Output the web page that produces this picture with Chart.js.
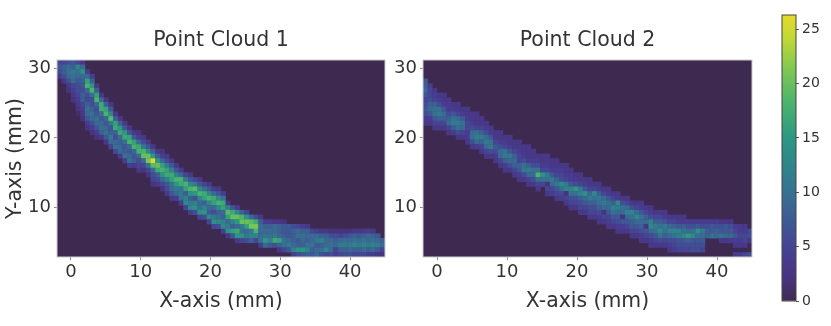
<!DOCTYPE html>
<html>
<head>
<meta charset="utf-8">
<script src="https://cdn.jsdelivr.net/npm/chart.js@4"></script>
<style>
  html, body { margin: 0; background: #fff; overflow: hidden; }
  canvas { position: absolute; top: 0; filter: blur(0.35px); }
</style>
</head>
<body>
<div style="position:absolute;left:0;top:0;width:442px;height:326px"><canvas id="cloud1"></canvas></div>
<div style="position:absolute;left:392px;top:0;width:391px;height:326px"><canvas id="cloud2"></canvas></div>
<div style="position:absolute;left:770px;top:0;width:61px;height:326px"><canvas id="colorbar"></canvas></div>
<script>
// axis ranges and ticks
const xRange = [-2, 45];
const yRange = [2.9, 31.2];
const xTicks = [0, 10, 20, 30, 40];
const yTicks = [10, 20, 30];
const barTicks = [0, 5, 10, 15, 20, 25];
const barRange = [0, 26.3];

// histogram grid
const nCols = 70;
const nRows = 42;

// viridis, a bit washed out like the picture: [value, r, g, b]
const colorStops = [
  [0, 62, 42, 80], [2, 72, 52, 125], [4, 72, 60, 145], [6, 66, 78, 148], [9, 58, 105, 148],
  [12, 48, 130, 140], [15, 44, 152, 130], [18, 72, 178, 110], [21, 120, 198, 85],
  [24, 190, 215, 55], [26.3, 228, 220, 42]
];

// first occupied row (from the top) of each column
const cloud1Start = [0,0,0,0,0,0,2,3,5,7,8,9,11,12,13,14,15,15,16,17,18,19,19,20,21,22,23,24,24,25,25,26,26,27,27,28,30,31,31,32,32,33,33,33,34,34,34,34,34,35,35,35,35,35,36,36,36,36,36,36,36,36,36,36,36,36,36,36,37,38];
// bin counts of each column, going down from the start row
const cloud1Cells = [
  [5,7,6,3],[5,8,8,6,3],[6,9,10,9,6,3,2],[7,8,11,10,9,5,4,3,2],
  [5,12,10,9,7,6,6,5,4,3,2,1],[3,9,14,9,8,7,6,8,8,5,4,3,2],[4,9,16,18,9,6,5,8,10,9,7,4,2],[4,8,15,18,10,6,6,8,10,9,6,4,2],
  [3,8,16,18,9,6,7,10,9,7,4,2],[3,9,17,17,9,7,9,10,8,3],[3,8,16,18,9,7,9,10,7,3],[3,7,13,19,11,7,8,11,9,5],
  [3,8,16,17,8,6,9,10,5],[3,8,15,17,9,8,9,9,4],[3,7,15,17,10,7,8,10,4],[3,7,16,18,9,7,9,10,4],
  [3,7,16,18,9,7,8,3],[2,4,9,17,18,9,6,5,3],[3,6,11,18,20,9,5,2],[3,7,13,20,21,10,5,2],
  [3,8,15,26,19,9,6,5,2],[3,8,15,20,17,8,6,3],[2,4,9,16,18,14,9,5,2],[3,6,11,16,17,12,7,6,3],
  [3,7,12,17,16,10,9,7,3],[3,7,12,18,15,11,9,4],[4,9,18,17,10,11,10,4],[5,11,18,16,8,12,13,5],
  [3,7,13,18,14,8,11,13,4],[5,11,19,15,6,12,14,6],[3,7,13,18,13,9,10,14,5],[5,10,17,16,8,12,15,6],
  [3,7,13,18,13,9,7,13,5],[4,9,17,16,9,6,11,14,5],[3,7,13,18,13,8,10,13,6],[4,10,17,16,9,8,12,13,4],
  [3,12,19,16,9,11,14,3],[7,17,20,12,8,16,7],[4,13,20,15,9,17,15,3],[8,18,20,11,10,14,5],
  [5,14,20,16,9,11,6],[9,19,21,11,12,8],[6,17,21,18,12,5],[3,8,9,9,9,10,4],
  [4,8,9,10,15,9],[4,8,9,10,12,7],[3,9,9,11,17,6],[3,8,8,9,16,8,3],
  [2,7,7,8,10,10,5],[7,7,7,9,11,7],[6,8,8,8,9,12,4],[5,9,10,7,8,14,6],
  [4,8,10,9,8,15,7],[3,8,9,8,10,12,8],[5,9,9,10,8,7],[4,9,11,7,9,9],
  [3,8,12,8,10,6],[3,8,9,9,12,5],[2,6,9,10,9,6],[2,6,8,9,5,4],
  [2,5,9,11,8,5],[2,6,10,11,8,6],[2,7,9,11,9,6],[3,8,10,12,8,5],
  [3,7,9,11,8,5],[3,8,10,12,9,5],[4,9,9,11,8,4],[3,8,10,12,9,4],
  [7,9,11,7,3],[8,9,5,2]
];

const cloud2Start = [4,5,6,7,7,8,9,9,10,10,11,11,12,13,14,15,15,16,16,17,17,18,18,19,20,20,20,21,21,22,22,23,24,24,25,25,26,26,27,27,28,28,29,29,30,30,30,31,31,32,32,32,33,33,33,33,34,34,34,34,34,34,34,34,34,34,35,35,35,36];
const cloud2Cells = [
  [7,8,9,7,5,6,7,6,4,3],[4,5,5,6,8,9,7,4,3],[3,4,5,8,10,10,7,5,3],[3,4,6,10,11,8,5,3],
  [3,3,4,7,9,8,5,3],[3,4,4,6,8,9,5,3],[3,4,7,10,11,7,4],[3,3,5,9,11,10,6,3],
  [3,4,7,10,9,5,3],[3,3,4,5,5,4,4,3],[3,3,4,6,9,10,6,3],[3,3,3,5,10,12,9,4],
  [3,3,5,8,11,8,5,3],[3,4,6,9,11,9,5,3],[3,4,7,10,11,6,3],[3,3,5,7,6,4,3],
  [3,3,4,6,9,9,5,3],[3,4,5,10,11,8,4,3],[3,3,4,7,11,9,6,3],[3,3,5,8,9,8,5,3],
  [3,3,4,5,5,8,7,4,3],[3,3,4,6,10,11,6,3],[3,3,3,4,8,11,9,5,3],[3,3,4,6,10,9,6,3],
  [3,4,6,10,18,10,5,3],[3,3,4,5,14,10,5],[3,3,4,5,11,10,2,5,3],[3,3,4,7,11,9,5,4],
  [3,3,4,5,8,11,7,5,3],[3,4,5,6,13,10,6,4],[3,3,4,5,11,12,2,5,3],[3,4,4,7,12,10,6,5,3],
  [3,4,6,15,10,6,5,3],[3,3,5,11,12,8,6,5,3],[3,4,7,14,9,7,5,3],[3,3,5,9,11,8,6,5,3],
  [3,5,13,10,8,6,5,3],[3,4,8,11,10,8,6,4,3],[3,5,9,11,9,2,5,3],[3,4,7,10,9,7,5,4,3],
  [3,5,8,12,10,7,5,3],[3,4,13,11,9,7,6,4,3],[3,6,10,9,2,7,4,3],[3,5,9,12,9,7,5,3],
  [3,6,12,10,8,7,5,3],[3,5,9,13,9,7,5,3],[3,4,7,10,9,8,6,4,3],[3,5,8,9,2,7,5,3],
  [3,4,6,12,13,9,6,4,3],[3,5,8,11,10,7,5,3],[3,5,8,10,13,10,6,3],[3,4,7,11,10,8,5,3],
  [3,5,9,12,9,6,4,3],[3,5,8,12,10,6,5,4],[3,4,7,12,11,7,6,5],[3,4,8,10,13,7,6,5],
  [4,6,9,15,8,6,5],[4,6,10,13,7,6,6],[4,7,14,10,7,6,6],[4,6,11,9,7,6,5],
  [4,6,8,8],[4,7,7,10],[4,6,8,9],[3,6,7,10,3],
  [3,7,7,9,3],[3,6,7,9,4],[4,5,7,4,3,0,4],[4,4,5,4,3,0,4],
  [3,4,5,5,3,0,5],[5,6,3,0,0,6]
];

const textColor = '#333333';
const fontFamily = '"DejaVu Sans", sans-serif';

function valueColor(v) {
  for (let i = 1; i < colorStops.length; i++) {
    if (v <= colorStops[i][0]) {
      const a = colorStops[i - 1], b = colorStops[i];
      const t = (v - a[0]) / (b[0] - a[0]);
      const mix = k => Math.round(a[k] + (b[k] - a[k]) * t);
      return `rgb(${mix(1)},${mix(2)},${mix(3)})`;
    }
  }
  return 'rgb(228,220,42)';
}

function toPoints(starts, cells) {
  const dx = (xRange[1] - xRange[0]) / nCols;
  const dy = (yRange[1] - yRange[0]) / nRows;
  const points = [];
  cells.forEach((col, c) => {
    col.forEach((v, i) => {
      if (v > 0) {
        points.push({
          x: xRange[0] + (c + 0.5) * dx,
          y: yRange[1] - (starts[c] + i + 0.5) * dy,
          v: v
        });
      }
    });
  });
  return points;
}

// dark background and thin frame of the image area
const framePlugin = {
  id: 'frame',
  beforeDatasetsDraw(chart, args, opts) {
    if (!opts.fill) return;
    const a = chart.chartArea;
    chart.ctx.fillStyle = opts.fill;
    chart.ctx.fillRect(a.left, a.top, a.width, a.height);
  },
  afterDatasetsDraw(chart, args, opts) {
    const a = chart.chartArea;
    chart.ctx.strokeStyle = opts.line;
    chart.ctx.lineWidth = 1;
    chart.ctx.strokeRect(a.left, a.top, a.width, a.height);
  }
};

function heatmap(id, title, starts, cells, yWidth, showYTitle) {
  return new Chart(document.getElementById(id), {
    type: 'scatter',
    data: {
      datasets: [{
        data: toPoints(starts, cells),
        pointStyle: 'rect',
        borderWidth: 0,
        pointBorderWidth: 0,
        pointRadius(ctx) {
          const s = ctx.chart.scales.x;
          const side = Math.abs(s.getPixelForValue((xRange[1] - xRange[0]) / nCols) - s.getPixelForValue(0));
          return (side + 0.4) * Math.SQRT1_2;
        },
        pointBackgroundColor(ctx) {
          const p = ctx.raw;
          return p ? valueColor(p.v) : 'transparent';
        }
      }]
    },
    plugins: [framePlugin],
    options: {
      responsive: true,
      maintainAspectRatio: false,
      animation: false,
      plugins: {
        legend: { display: false },
        tooltip: { enabled: false },
        title: {
          display: true,
          text: title,
          color: textColor,
          font: { family: fontFamily, size: 20.5, weight: 'normal' },
          padding: { top: 28, bottom: 7.4 }
        },
        frame: { fill: 'rgb(62,42,80)', line: '#cccccc' }
      },
      scales: {
        x: {
          type: 'linear',
          min: xRange[0],
          max: xRange[1],
          afterBuildTicks(axis) { axis.ticks = xTicks.map(value => ({ value })); },
          afterFit(axis) { axis.height = 69; },
          grid: { drawOnChartArea: false, tickLength: 3, color: '#888888' },
          border: { display: false },
          ticks: { color: textColor, font: { family: fontFamily, size: 18 }, padding: 2, maxRotation: 0 },
          title: {
            display: true,
            text: 'X-axis (mm)',
            color: textColor,
            font: { family: fontFamily, size: 20.4 },
            padding: { top: 0, bottom: 12 }
          }
        },
        y: {
          type: 'linear',
          min: yRange[0],
          max: yRange[1],
          afterBuildTicks(axis) { axis.ticks = yTicks.map(value => ({ value })); },
          afterFit(axis) { axis.width = yWidth; },
          grid: { drawOnChartArea: false, tickLength: 3, color: '#888888' },
          border: { display: false },
          ticks: { color: textColor, font: { family: fontFamily, size: 18 }, padding: 3 },
          title: {
            display: showYTitle,
            text: 'Y-axis (mm)',
            color: textColor,
            font: { family: fontFamily, size: 20.5 },
            padding: { top: 3, bottom: 0 }
          }
        },
        // empty axis on the right, same width as the left one, so the title centres over the image
        spacer: {
          type: 'linear',
          position: 'right',
          afterFit(axis) { axis.width = yWidth; },
          grid: { display: false },
          border: { display: false },
          ticks: { display: false }
        }
      }
    }
  });
}

heatmap('cloud1', 'Point Cloud 1', cloud1Start, cloud1Cells, 57, true);
heatmap('cloud2', 'Point Cloud 2', cloud2Start, cloud2Cells, 31, false);

new Chart(document.getElementById('colorbar'), {
  type: 'bar',
  data: {
    labels: [''],
    datasets: [{
      data: [barRange],
      barPercentage: 1,
      categoryPercentage: 1,
      backgroundColor(ctx) {
        const { chart } = ctx;
        const s = chart.scales.y;
        if (!s || !chart.chartArea) return '#888888';
        const g = chart.ctx.createLinearGradient(0, s.getPixelForValue(barRange[0]), 0, s.getPixelForValue(barRange[1]));
        colorStops.forEach(st => g.addColorStop(st[0] / barRange[1], `rgb(${st[1]},${st[2]},${st[3]})`));
        return g;
      }
    }]
  },
  plugins: [framePlugin],
  options: {
    responsive: true,
    maintainAspectRatio: false,
    animation: false,
    layout: { padding: { left: 12, top: 15, bottom: 25 } },
    plugins: {
      legend: { display: false },
      tooltip: { enabled: false },
      frame: { line: '#444444' }
    },
    scales: {
      x: { display: false },
      y: {
        position: 'right',
        min: barRange[0],
        max: barRange[1],
        afterBuildTicks(axis) { axis.ticks = barTicks.map(value => ({ value })); },
        afterFit(axis) { axis.width = 35; },
        grid: { drawOnChartArea: false, tickLength: 3, color: '#555555' },
        border: { display: false },
        ticks: { color: textColor, font: { family: fontFamily, size: 14 }, padding: 3 }
      }
    }
  }
});
</script>
</body>
</html>
